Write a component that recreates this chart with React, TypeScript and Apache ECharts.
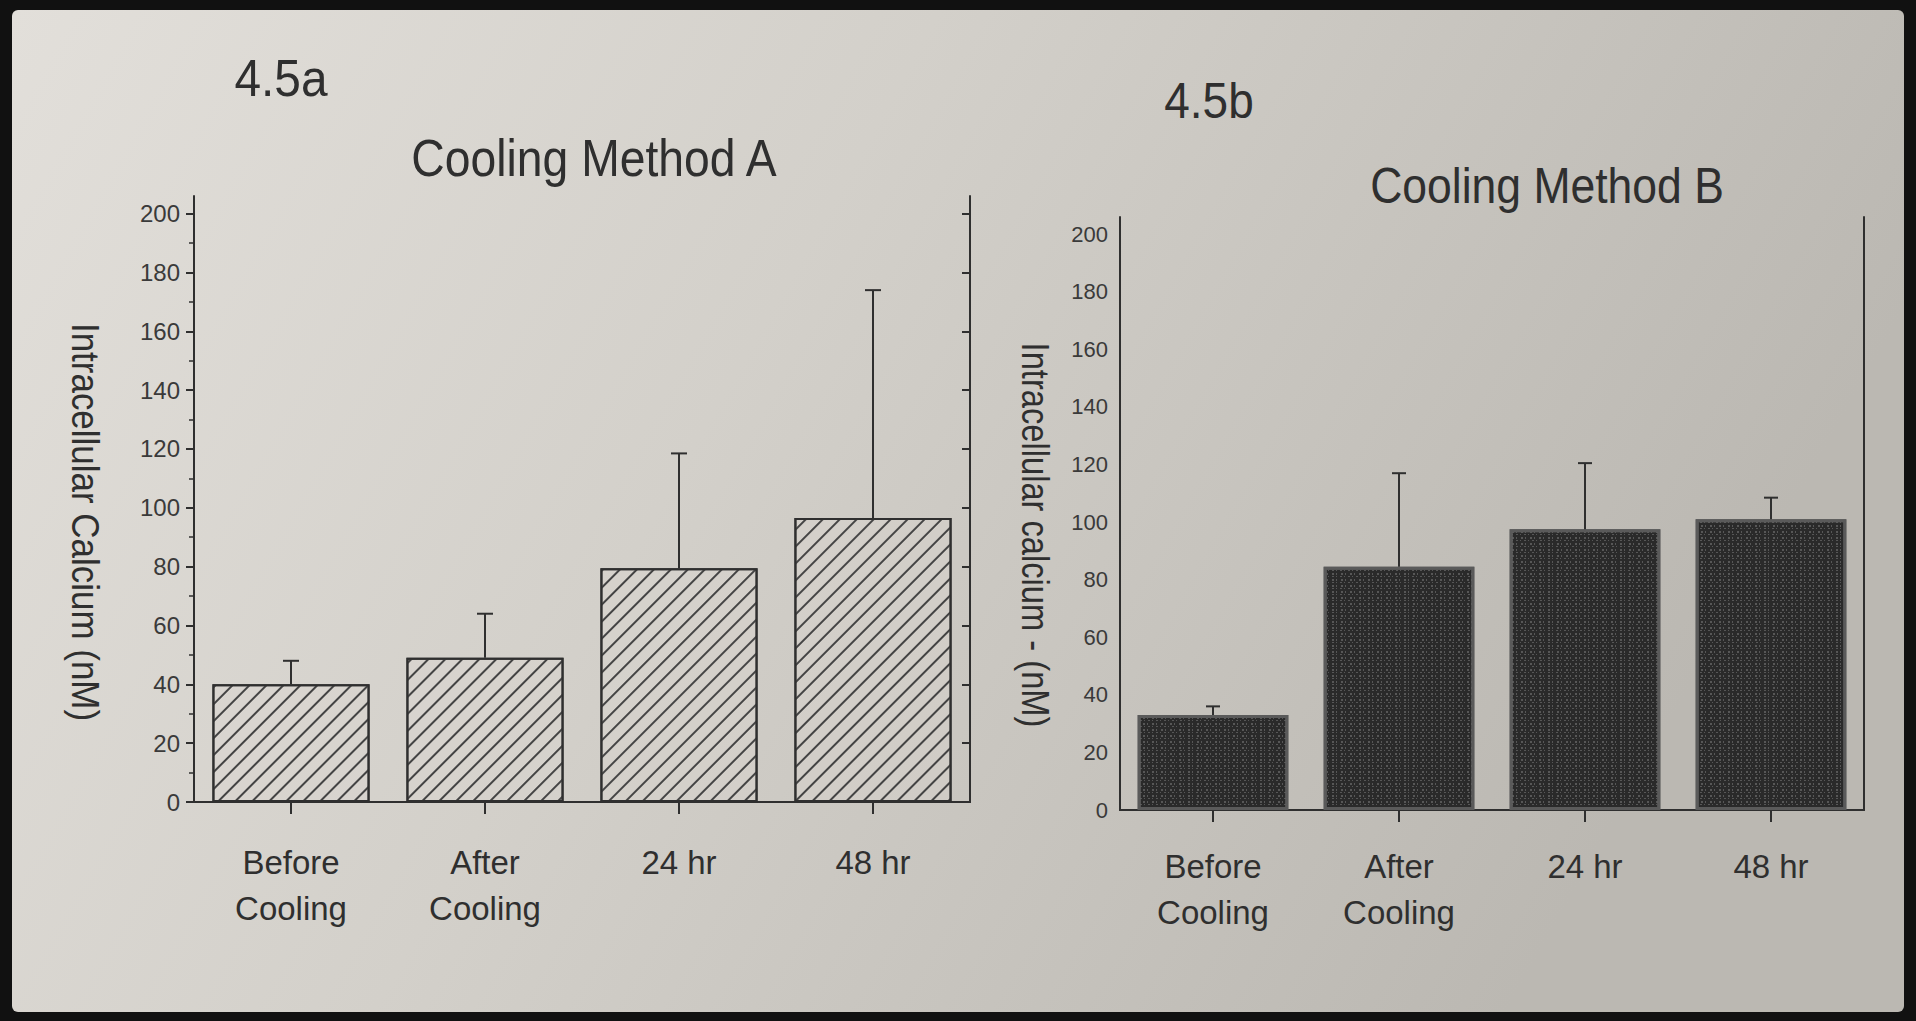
import React, { useEffect, useRef } from "react";
import * as echarts from "echarts";

const categories = ["Before\nCooling", "After\nCooling", "24 hr", "48 hr"];
const meanA = [40, 49, 79.5, 96.5];
const sdA = [8, 15, 39, 77.5];
const meanB = [33, 84.5, 97.5, 101];
const sdB = [3, 32.5, 23, 7.5];
const yTicks = [0, 20, 40, 60, 80, 100, 120, 140, 160, 180, 200];
const titleA = "Cooling Method A";
const titleB = "Cooling Method B";
const panelA = "4.5a";
const panelB = "4.5b";
const yNameA = "Intracellular Calcium (nM)";
const yNameB = "Intracellular calcium - (nM)";

const SANS = '"Liberation Sans", Arial, sans-serif';
const INK = "#2f2f2f";

function errorSeries(mean: number[], sd: number[], idx: number, capW: number) {
  return {
    type: "custom",
    xAxisIndex: idx * 2,
    yAxisIndex: idx * 2,
    z: 5,
    silent: true,
    encode: { x: 0, y: [1, 2] },
    data: mean.map((m, i) => [i, m, m + sd[i]]),
    renderItem: (params: any, api: any) => {
      const x = api.value(0);
      const lo = api.coord([x, api.value(1)]);
      const hi = api.coord([x, api.value(2)]);
      const style = { stroke: INK, lineWidth: 2 };
      return {
        type: "group",
        children: [
          { type: "line", shape: { x1: lo[0], y1: lo[1], x2: hi[0], y2: hi[1] }, style },
          { type: "line", shape: { x1: hi[0] - capW / 2, y1: hi[1], x2: hi[0] + capW / 2, y2: hi[1] }, style },
        ],
      };
    },
  };
}

function txt(text: string, x: number, y: number, size: number, sx: number, rot = 0) {
  return {
    type: "text",
    x,
    y,
    rotation: rot,
    scaleX: sx,
    silent: true,
    style: { text, fontFamily: SANS, fontSize: size, fill: INK, align: "center", verticalAlign: "middle" },
  };
}

export default function App() {
  const ref = useRef<HTMLDivElement>(null);
  useEffect(() => {
    if (!ref.current) return;
    const chart = echarts.init(ref.current, null, { renderer: "svg" });
    const axisLine = { show: true, lineStyle: { color: INK, width: 2 } };
    const grids = [
      { left: 194, top: 196, width: 776, height: 606 },
      { left: 1120, top: 217, width: 744, height: 593 },
    ];
    const xAxes: any[] = [];
    const yAxes: any[] = [];
    [0, 1].forEach((g) => {
      xAxes.push({
        type: "category",
        gridIndex: g,
        data: categories,
        position: "bottom",
        axisLine,
        axisTick: { show: true, alignWithLabel: true, length: 12, lineStyle: { color: INK, width: 2 } },
        axisLabel: {
          color: INK,
          fontFamily: SANS,
          fontSize: 33,
          lineHeight: 46,
          margin: g === 0 ? 37 : 33,
        },
        splitLine: { show: false },
      });
      xAxes.push({
        type: "category",
        gridIndex: g,
        data: categories,
        position: "top",
        axisLine,
        axisTick: { show: false },
        axisLabel: { show: false },
        splitLine: { show: false },
      });
      yAxes.push({
        type: "value",
        gridIndex: g,
        position: "left",
        min: 0,
        max: 206,
        interval: 20,
        axisLine,
        axisTick:
          g === 0
            ? { show: true, length: 8, customValues: yTicks, lineStyle: { color: INK, width: 2 } }
            : { show: false },
        minorTick: g === 0 ? { show: true, splitNumber: 2, length: 5, lineStyle: { color: INK, width: 1.5 } } : { show: false },
        axisLabel: {
          color: "#3a3a3a",
          fontFamily: SANS,
          fontSize: g === 0 ? 24 : 22,
          margin: g === 0 ? 14 : 12,
          customValues: yTicks,
        },
        splitLine: { show: false },
        minorSplitLine: { show: false },
      });
      yAxes.push({
        type: "value",
        gridIndex: g,
        position: "right",
        min: 0,
        max: 206,
        interval: 20,
        axisLine,
        axisTick:
          g === 0
            ? { show: true, inside: true, length: 8, customValues: yTicks, lineStyle: { color: INK, width: 2 } }
            : { show: false },
        axisLabel: { show: false },
        splitLine: { show: false },
      });
    });

    const option: any = {
      animation: false,
      grid: grids,
      xAxis: xAxes,
      yAxis: yAxes,
      graphic: [
        { type: "rect", z: -100, silent: true, shape: { x: 0, y: 0, width: 1916, height: 1021 }, style: { fill: "#111" } },
        {
          type: "rect",
          z: -99,
          silent: true,
          shape: { x: 12, y: 10, width: 1892, height: 1002, r: 6 },
          style: {
            fill: {
              type: "linear",
              x: 0, y: 0, x2: 1, y2: 0.3,
              colorStops: [
                { offset: 0, color: "#e2dfda" },
                { offset: 0.45, color: "#d3d0ca" },
                { offset: 1, color: "#bbb8b2" },
              ],
            },
          },
        },
        txt(panelA, 281, 78, 52, 0.92),
        txt(panelB, 1209, 101, 50, 0.92),
        txt(titleA, 594, 158, 52, 0.89),
        txt(titleB, 1547, 186, 50, 0.89),
        txt(yNameA, 85, 522, 38, 0.92, -Math.PI / 2),
        txt(yNameB, 1035, 535, 38, 0.86, -Math.PI / 2),
      ],
      series: [
        {
          type: "bar",
          xAxisIndex: 0,
          yAxisIndex: 0,
          data: meanA,
          barCategoryGap: "19%",
          z: 3,
          itemStyle: {
            color: "rgba(220,216,210,0.35)",
            borderColor: INK,
            borderWidth: 2,
            decal: {
              symbol: "rect",
              symbolSize: 1,
              color: "#444",
              dashArrayX: [1, 0],
              dashArrayY: [1.5, 9.5],
              rotation: -Math.PI / 4,
            },
          },
        },
        errorSeries(meanA, sdA, 0, 16),
        {
          type: "bar",
          xAxisIndex: 2,
          yAxisIndex: 2,
          data: meanB,
          barCategoryGap: "19%",
          z: 3,
          itemStyle: {
            color: "#2a2a2a",
            borderColor: "#5a5a5a",
            borderWidth: 3,
            decal: {
              symbol: "rect",
              symbolSize: 1,
              color: "rgba(170,170,170,0.35)",
              dashArrayX: [[1, 3, 2, 2], [2, 2, 1, 4]],
              dashArrayY: [1, 2, 2, 1],
              rotation: 0,
            },
          },
        },
        errorSeries(meanB, sdB, 1, 14),
      ],
    };
    chart.setOption(option);
    return () => chart.dispose();
  }, []);
  return (
    <div
      ref={ref}
      style={{ position: "absolute", left: 0, top: 0, width: 1916, height: 1021 }}
    />
  );
}
